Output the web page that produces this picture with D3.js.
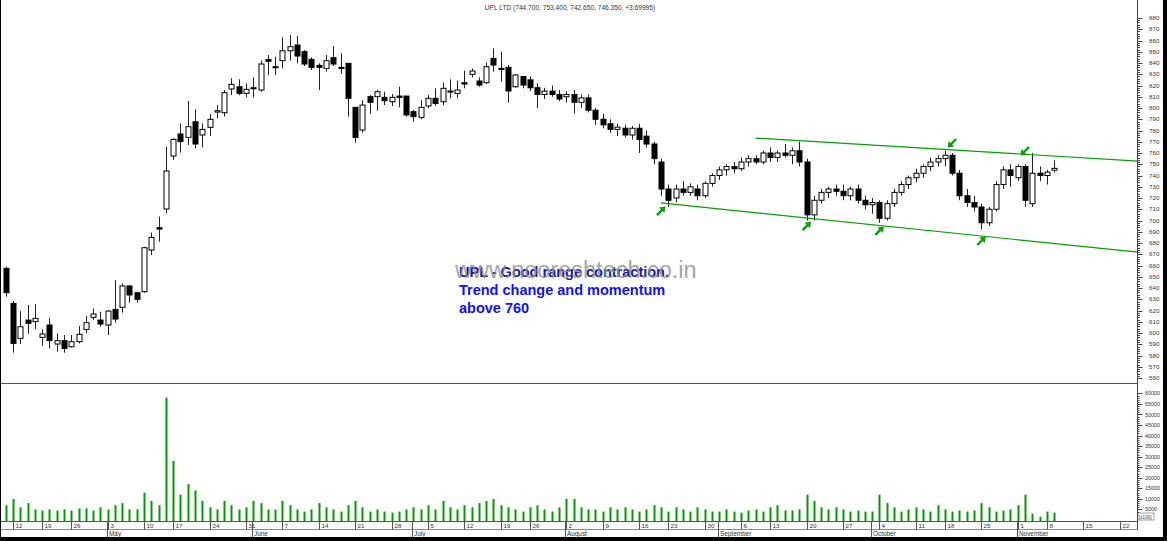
<!DOCTYPE html>
<html><head><meta charset="utf-8">
<script src="https://cdn.jsdelivr.net/npm/d3@7"></script>
<style>body{margin:0;background:#000;}svg{display:block}</style>
</head><body><svg id="c" width="1167" height="541"></svg>
<script>
const title = "UPL LTD (744.700, 753.400, 742.650, 746.350, +3.69995)";
const dates = [
"2021-04-09","2021-04-12","2021-04-13","2021-04-15","2021-04-16","2021-04-19","2021-04-20","2021-04-22","2021-04-23","2021-04-26","2021-04-27","2021-04-28","2021-04-29","2021-04-30",
"2021-05-03","2021-05-04","2021-05-05","2021-05-06","2021-05-07","2021-05-10","2021-05-11","2021-05-12","2021-05-14","2021-05-17","2021-05-18","2021-05-19","2021-05-20","2021-05-21","2021-05-24","2021-05-25","2021-05-26","2021-05-27","2021-05-28","2021-05-31",
"2021-06-01","2021-06-02","2021-06-03","2021-06-04","2021-06-07","2021-06-08","2021-06-09","2021-06-10","2021-06-11","2021-06-14","2021-06-15","2021-06-16","2021-06-17","2021-06-18","2021-06-21","2021-06-22","2021-06-23","2021-06-24","2021-06-25","2021-06-28","2021-06-29","2021-06-30",
"2021-07-01","2021-07-02","2021-07-05","2021-07-06","2021-07-07","2021-07-08","2021-07-09","2021-07-12","2021-07-13","2021-07-14","2021-07-15","2021-07-16","2021-07-19","2021-07-20","2021-07-22","2021-07-23","2021-07-26","2021-07-27","2021-07-28","2021-07-29","2021-07-30",
"2021-08-02","2021-08-03","2021-08-04","2021-08-05","2021-08-06","2021-08-09","2021-08-10","2021-08-11","2021-08-12","2021-08-13","2021-08-16","2021-08-17","2021-08-18","2021-08-20","2021-08-23","2021-08-24","2021-08-25","2021-08-26","2021-08-27","2021-08-30","2021-08-31",
"2021-09-01","2021-09-02","2021-09-03","2021-09-06","2021-09-07","2021-09-08","2021-09-09","2021-09-13","2021-09-14","2021-09-15","2021-09-16","2021-09-17","2021-09-20","2021-09-21","2021-09-22","2021-09-23","2021-09-24","2021-09-27","2021-09-28","2021-09-29","2021-09-30",
"2021-10-01","2021-10-04","2021-10-05","2021-10-06","2021-10-07","2021-10-08","2021-10-11","2021-10-12","2021-10-13","2021-10-14","2021-10-18","2021-10-19","2021-10-20","2021-10-21","2021-10-22","2021-10-25","2021-10-26","2021-10-27","2021-10-28","2021-10-29",
"2021-11-01","2021-11-02","2021-11-03","2021-11-04","2021-11-08","2021-11-09"];
const futureDates = ["2021-11-10","2021-11-11","2021-11-12","2021-11-15","2021-11-16","2021-11-17","2021-11-18","2021-11-19","2021-11-22","2021-11-23","2021-11-24","2021-11-25"];

const opens = [657.5,626.3,595.2,611.5,610.1,596.1,607.1,590.2,593.2,587.8,592.3,603.2,613.9,611.5,
607.1,621.0,622.8,641.8,635.8,636.7,673.8,693.6,710.2,757.3,776.9,773.9,787.8,776.0,782.8,796.4,795.8,816.9,818.9,813.0,
818.0,816.0,843.2,836.7,842.1,850.9,856.0,850.1,843.2,837.9,835.2,844.7,836.1,839.7,800.6,780.4,810.1,810.1,809.5,805.6,810.6,810.6,
796.7,791.7,801.8,808.6,805.6,815.1,813.0,822.5,829.9,824.0,822.5,844.1,835.2,836.1,818.9,828.0,825,818,812,815,812,
810,812,805,809,798,790,786,781,782,776,782,775,768,752,728,720,728,725,728,722,733,
740,745,748,746,752,755,752,760,756,760,758,762,752,705,718,725,728,726,722,728,718,
714,716,702,715,725,732,738,742,748,752,755,758,742,722,716,712,698,710,732,745,
738,748,715,742,740,744.7];
const highs = [659,628.4,619.5,624.9,625.8,603.2,613.6,599.7,598.2,598.2,606.2,615.1,621.9,618.9,
620.4,647.1,644.1,642.6,636.7,676.7,689.2,703.4,765.6,773.0,786.3,806.2,798.8,786.3,794.6,802.6,816.0,826.3,825.5,821.9,
827.2,842.1,847.1,845.6,862.8,864.9,864.0,851.5,845.0,839.7,847.1,855.1,848.6,839.7,800.6,807.1,811.5,816.0,814.5,812.4,818.9,810.6,
798.2,807.1,811.5,817.5,822.5,825.5,824.3,833.2,835.2,827.2,840.3,853.0,850.1,838.2,830.2,828.4,828,822,818,820,816,
815,816,812,812,800,795,790,786,785,784,786,780,770,755,732,732,735,733,732,735,742,
748,750,752,756,758,758,762,765,762,768,765,770,755,722,728,730,732,732,730,732,722,
720,718,718,728,735,740,746,750,756,758,762,760,745,728,722,715,712,735,748,750,
750,750,760,748,745,753.4];
const lows = [632.3,582.5,590.2,599.1,603.2,588.4,586.3,583.4,582.5,587.2,590.8,599.7,611.5,605.6,
598.2,609.2,618.0,626.9,626.9,635.8,669.3,681.2,706.3,753.8,760.3,767.1,764.1,765.0,775.1,790.8,792.3,811.5,811.5,809.5,
809.5,814.5,829.3,829.3,835.2,842.1,839.7,837.3,833.8,816.0,832.3,837.3,830.2,792.3,769.2,778.0,794.6,797.6,802.6,801.8,800.6,792.3,
787.8,789.9,799.7,801.8,802.6,808.6,808.6,817.5,827.2,818.9,821.3,832.3,823.4,804.7,818.0,817.5,815,800,808,810,806,
805,795,800,796,785,782,778,775,774,772,760,765,750,722,712,716,722,722,718,720,730,
736,740,742,744,748,750,750,752,752,756,750,748,700,700,715,720,722,718,718,715,710,
706,698,700,712,722,728,734,738,744,748,748,740,718,712,708,692,695,708,728,730,
735,712,712,735,732,742.65];
const closes = [635.8,590.8,605.6,608.6,613.0,599.1,593.2,593.2,586.3,592.3,598.8,609.2,616.9,608.0,
619.5,612.4,641.8,633.8,629.9,675.8,685.0,692.4,744.0,772.1,770.1,783.4,768.0,781.0,789.9,797.6,813.6,821.0,813.0,816.6,
817.2,839.1,841.5,835.8,850.9,854.5,846.2,839.1,836.1,836.1,842.1,839.1,835.2,808.6,773.9,802.6,805.0,814.5,806.5,809.5,809.5,793.8,
792.3,800.6,808.6,804.1,817.5,814.2,816.0,821.3,832.9,820.4,836.7,838.2,834.3,815.1,829.3,820.4,818,812,815,812,808,
812,805,809,798,790,785,781,783,776,782,772,768,755,728,718,728,725,730,722,733,740,
745,748,746,752,755,752,760,756,760,758,762,752,705,718,725,728,726,722,728,718,714,
716,702,715,725,732,738,742,748,752,755,758,742,722,716,712,698,710,732,745,740,
748,718,742,740,743,746.35];
const volumes = [7000,10000,6000,8000,5000,4500,5000,4500,5000,4500,5500,5500,4500,6000,
5000,7000,8000,5000,5000,13000,9000,7000,58000,28000,12000,17000,14000,9000,6000,5000,9000,7000,5000,6000,
9000,8000,5000,5000,9000,7000,5000,4000,5000,8000,6000,5000,4000,7000,9000,6000,4000,5000,4000,3500,4000,5000,
6000,5000,7000,5000,9000,6000,5000,7000,6000,8000,9000,10000,7000,6000,5000,4000,6000,7000,5000,4000,6000,
10000,10000,6000,5000,5000,4000,6000,5000,6000,5000,4000,5000,7000,6000,4000,6000,5000,4000,6000,5000,4000,
4000,5000,4000,3500,4500,5000,4000,6000,7000,4500,4500,5000,12000,9000,6000,5000,6000,5000,4000,4500,4000,
4000,12000,8000,6000,4000,5000,6000,5000,4000,7000,5000,4000,4500,4000,4500,8000,6000,4000,4500,5000,
7000,12000,3000,1500,4000,3500];

const weekTickDates = ["2021-04-12","2021-04-19","2021-04-26","2021-05-03","2021-05-10","2021-05-17","2021-05-24","2021-05-31","2021-06-07","2021-06-14","2021-06-21","2021-06-28","2021-07-05","2021-07-12","2021-07-19","2021-07-26","2021-08-02","2021-08-09","2021-08-16","2021-08-23","2021-08-30","2021-09-06","2021-09-13","2021-09-20","2021-09-27","2021-10-04","2021-10-11","2021-10-18","2021-10-25","2021-11-01","2021-11-08","2021-11-15","2021-11-22"];
const monthStartDates = ["2021-05-03","2021-06-01","2021-07-01","2021-08-02","2021-09-01","2021-10-01","2021-11-01"];
const monthNames = ["May","June","July","August","September","October","November"];

const trendLines = [
  {d0:"2021-09-08", p0:773.3, d1:"2021-11-25", p1:752.6},
  {d0:"2021-08-20", p0:715.6, d1:"2021-11-25", p1:671.6}
];
const arrows = [
  {d:"2021-08-20", p:708.4, dir:"ur"},
  {d:"2021-09-20", p:695.0, dir:"ur"},
  {d:"2021-10-04", p:690.7, dir:"ur"},
  {d:"2021-10-25", p:681.8, dir:"ur"},
  {d:"2021-10-19", p:768.9, dir:"dl"},
  {d:"2021-11-02", p:761.8, dir:"dl"}
];
const noteLines = ["UPL - Good range contraction.","Trend change and momentum","above 760"];
const watermark = "www.nooreshtech.co.in";

const svg = d3.select("#c");
const W = 1167, H = 541;
const axisX = 1137.5;
const allDates = dates.concat(futureDates);
const idx = d => allDates.indexOf(d);

svg.append("rect").attr("width",W).attr("height",H).attr("fill","#000");
svg.append("rect").attr("x",1).attr("y",0).attr("width",1162).attr("height",537).attr("fill","#fff");

const x = d3.scaleLinear().domain([1,143]).range([13,1046.8]);
const yP = d3.scaleLinear().domain([560,880]).range([378,18]);
const yV = d3.scaleLinear().domain([0,60000]).range([520,393.4]);

svg.append("defs").append("clipPath").attr("id","pclip").append("rect")
  .attr("x",1).attr("y",0).attr("width",axisX-1).attr("height",383);

svg.append("text").attr("x",570).attr("y",10).attr("text-anchor","middle")
  .attr("font-family","Liberation Sans, Arial, sans-serif").attr("font-size",6.6).attr("fill","#333").text(title);

const data = dates.map((d,i)=>({d, i, o:opens[i], h:highs[i], l:lows[i], c:closes[i], v:volumes[i]}));

const pg = svg.append("g").attr("clip-path","url(#pclip)");
const cw = 5;
pg.selectAll("line.wick").data(data).join("line").attr("class","wick")
  .attr("x1",d=>Math.round(x(d.i))+0.5).attr("x2",d=>Math.round(x(d.i))+0.5)
  .attr("y1",d=>yP(d.h)).attr("y2",d=>yP(d.l)).attr("stroke","#222").attr("stroke-width",1);
pg.selectAll("rect.body").data(data).join("rect").attr("class","body")
  .attr("x",d=>Math.round(x(d.i))-2)
  .attr("y",d=>yP(Math.max(d.o,d.c)))
  .attr("width",cw)
  .attr("height",d=>Math.max(1,Math.abs(yP(d.o)-yP(d.c))))
  .attr("fill",d=>d.c<d.o?"#000":"#fff").attr("stroke","#000").attr("stroke-width",1);

pg.selectAll("line.trend").data(trendLines).join("line")
  .attr("x1",t=>x(idx(t.d0))).attr("y1",t=>yP(t.p0))
  .attr("x2",t=>x(idx(t.d1))).attr("y2",t=>yP(t.p1))
  .attr("stroke","#00a000").attr("stroke-width",1.2);

pg.selectAll("g.arrow").data(arrows).join("g")
  .attr("transform",a=>`translate(${x(idx(a.d))},${yP(a.p)}) rotate(${a.dir==="ur"?0:180})`)
  .each(function(){
    const g=d3.select(this);
    g.append("line").attr("x1",-4).attr("y1",4).attr("x2",1).attr("y2",-1).attr("stroke","#00a000").attr("stroke-width",2.4);
    g.append("path").attr("d","M4.5,-4.5 L-2,-3.5 L3.5,2 Z").attr("fill","#00a000");
  });

const tg = svg.append("g");
noteLines.forEach((t,k)=>{
  tg.append("text").attr("x",459).attr("y",277+k*18)
    .attr("font-family","Liberation Sans, Arial, sans-serif").attr("font-weight","bold")
    .attr("font-size",14.5).attr("fill", k===0?"#1a1aa0":"#1010ff").text(t);
});
svg.append("text").attr("x",455).attr("y",278).attr("font-family","Liberation Sans, Arial, sans-serif")
  .attr("font-size",23.5).attr("fill","#8c8c8c").attr("fill-opacity",0.8).text(watermark);

svg.append("line").attr("x1",1).attr("x2",axisX).attr("y1",383.5).attr("y2",383.5).attr("stroke","#555");

svg.append("g").selectAll("line").data(data).join("line")
  .attr("x1",d=>Math.round(x(d.i))+0.5).attr("x2",d=>Math.round(x(d.i))+0.5)
  .attr("y1",d=>yV(d.v)).attr("y2",521).attr("stroke","#009900").attr("stroke-width",2);

const font = "Liberation Sans, Arial, sans-serif";
svg.append("line").attr("x1",axisX).attr("x2",axisX).attr("y1",0).attr("y2",530).attr("stroke","#444");
const ax = svg.append("g");
d3.range(560,881,2).forEach(v=>{
  const major = v%10===0;
  ax.append("line").attr("x1",axisX).attr("x2",axisX+(major?5:2.5)).attr("y1",Math.round(yP(v))+0.5).attr("y2",Math.round(yP(v))+0.5).attr("stroke","#444");
});
yP.ticks(32).forEach(v=>{
  ax.append("text").attr("x",1149).attr("y",yP(v)+2).attr("font-family",font).attr("font-size",6.2).attr("fill","#333").text(v);
});
d3.range(1000,61000,1000).forEach(v=>{
  const major = v%5000===0;
  if (yV(v) < 386) return;
  ax.append("line").attr("x1",axisX).attr("x2",axisX+(major?5:2)).attr("y1",Math.round(yV(v))+0.5).attr("y2",Math.round(yV(v))+0.5).attr("stroke","#444");
});
yV.ticks(12).filter(v=>v>0).forEach(v=>{
  ax.append("text").attr("x",1145).attr("y",yV(v)+2).attr("font-family",font).attr("font-size",5.4).attr("fill","#333").text(v);
});
ax.append("rect").attr("x",1138).attr("y",513).attr("width",16).attr("height",7).attr("fill","#fff").attr("stroke","#666").attr("stroke-width",0.6);
ax.append("text").attr("x",1139).attr("y",518.5).attr("font-family",font).attr("font-size",4.6).attr("fill","#333").text("[x100]");

const dg = svg.append("g");
dg.append("line").attr("x1",1).attr("x2",axisX).attr("y1",521.5).attr("y2",521.5).attr("stroke","#555");
dg.append("line").attr("x1",1).attr("x2",axisX).attr("y1",529.5).attr("y2",529.5).attr("stroke","#888");
weekTickDates.forEach(d=>{
  const xx = Math.round(x(idx(d)))+0.5;
  dg.append("line").attr("x1",xx).attr("x2",xx).attr("y1",521.5).attr("y2",529.5).attr("stroke","#555");
  dg.append("text").attr("x",xx+2).attr("y",528).attr("font-family",font).attr("font-size",6.2).attr("fill","#333").text(+d.slice(8));
});
monthStartDates.forEach((d,k)=>{
  const xx = Math.round(x(idx(d)))-0.5;
  dg.append("line").attr("x1",xx).attr("x2",xx).attr("y1",521.5).attr("y2",537).attr("stroke","#555");
  dg.append("text").attr("x",xx+1.5).attr("y",536).attr("font-family",font).attr("font-size",6.4).attr("fill","#333").text(monthNames[k]);
});
</script></body></html>
